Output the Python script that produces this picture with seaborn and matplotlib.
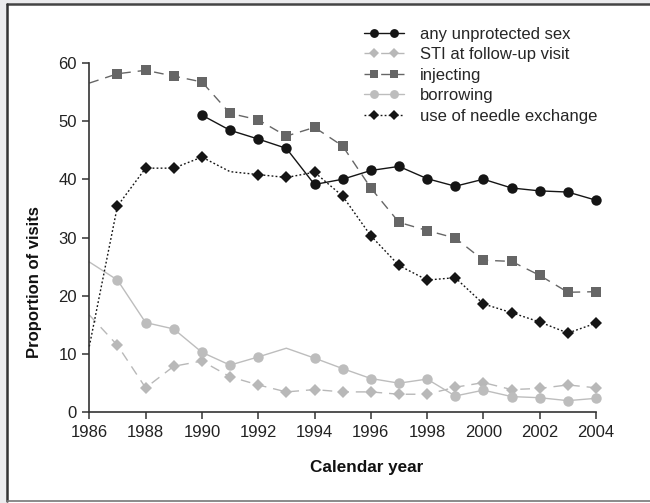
import numpy as np
import pandas as pd
import seaborn as sns
import matplotlib.pyplot as plt
from matplotlib.patches import Rectangle
from matplotlib.lines import Line2D
from matplotlib.legend_handler import HandlerLine2D, HandlerTuple

# data
years = list(range(1986, 2005))
unprotected_sex = [np.nan, np.nan, np.nan, np.nan, 51.0, 48.4, 46.9, 45.3, 39.1, 40.0,
                   41.5, 42.2, 40.1, 38.8, 40.0, 38.5, 38.0, 37.8, 36.4]
sti_followup = [16.7, 11.5, 4.2, 7.9, 8.8, 6.1, 4.7, 3.5, 3.9, 3.5,
                3.5, 3.1, 3.1, 4.3, 5.1, 3.9, 4.1, 4.7, 4.2]
injecting = [56.5, 58.1, 58.7, 57.7, 56.7, 51.3, 50.2, 47.4, 48.9, 45.7,
             38.5, 32.6, 31.2, 29.9, 26.1, 25.9, 23.5, 20.6, 20.7]
borrowing = [25.8, 22.7, 15.4, 14.3, 10.3, 8.1, 9.5, 11.0, 9.3, 7.5,
             5.8, 5.0, 5.7, 2.8, 3.8, 2.7, 2.5, 2.0, 2.4]
needle_exchange = [11.3, 35.4, 41.9, 41.9, 43.8, 41.3, 40.8, 40.3, 41.2, 37.1,
                   30.3, 25.2, 22.7, 23.1, 18.6, 17.1, 15.5, 13.6, 15.3]

# years drawn without a marker on each line
unmarked = {
    'any unprotected sex': [],
    'STI at follow-up visit': [1986],
    'injecting': [1986],
    'borrowing': [1986, 1993],
    'use of needle exchange': [1986, 1991],
}

sns.set_theme(style='white')
plt.rcParams['font.family'] = ['Liberation Sans', 'DejaVu Sans']

fig = plt.figure(figsize=(6.5, 5.03), dpi=100, facecolor='#ebebed')

# white panel with frame lines
fig.patches.append(Rectangle((7 / 650, 0), 1, 1 - 4 / 503, transform=fig.transFigure,
                             facecolor='white', edgecolor='none', zorder=-5))
fig.lines.append(Line2D([7 / 650, 1], [1 - 4 / 503] * 2, transform=fig.transFigure,
                        color='#444444', lw=1.8, zorder=-4))
fig.lines.append(Line2D([7 / 650] * 2, [0.003, 1 - 4 / 503], transform=fig.transFigure,
                        color='#333333', lw=1.8, zorder=-4))
fig.lines.append(Line2D([7 / 650, 1], [0.003] * 2, transform=fig.transFigure,
                        color='#777777', lw=1.2, zorder=-4))

ax = fig.add_axes([89.3 / 650, 1 - 412.3 / 503, (596 - 89.3) / 650, (412.3 - 62.7) / 503])
ax.set_facecolor('none')

series = [
    ('any unprotected sex', unprotected_sex, '#151515', '-', 'o', 7.5),
    ('STI at follow-up visit', sti_followup, '#b8b8b8', (0, (7, 5)), 'D', 6.5),
    ('injecting', injecting, '#666666', (0, (7, 5)), 's', 6.5),
    ('borrowing', borrowing, '#bdbdbd', '-', 'o', 7.5),
    ('use of needle exchange', needle_exchange, '#151515', (0, (1.3, 1.6)), 'D', 6.5),
]

handles, labels, hmap = [], [], {}
for name, vals, color, ls, mk, ms in series:
    df = pd.DataFrame({'year': years, 'value': vals}).dropna()
    marks = [y not in unmarked[name] for y in df['year']]
    sns.lineplot(data=df, x='year', y='value', ax=ax, color=color, linestyle=ls,
                 linewidth=1.0, marker=mk, markersize=ms, markeredgewidth=0,
                 markerfacecolor=color, markevery=marks, clip_on=False, legend=False)
    # legend handle: full-width line plus two inset markers
    ln = Line2D([], [], color=color, linestyle=ls, linewidth=1.0)
    mkh = Line2D([], [], linestyle='none', marker=mk, markersize=ms * 0.85,
                 markeredgewidth=0, color=color)
    hmap[ln] = HandlerLine2D(numpoints=2, marker_pad=0)
    hmap[mkh] = HandlerLine2D(numpoints=2, marker_pad=0.6)
    handles.append((ln, mkh))
    labels.append(name)

ax.set_xlim(1986, 2004)
ax.set_ylim(0, 60)
ax.set_xticks(range(1986, 2005, 2))
ax.set_yticks(range(0, 61, 10))
for s in ['top', 'right']:
    ax.spines[s].set_visible(False)
for s in ['left', 'bottom']:
    ax.spines[s].set_color('#333333')
    ax.spines[s].set_linewidth(1.2)
ax.tick_params(axis='both', direction='out', length=5, width=1.1, color='#333333',
               labelsize=12, labelcolor='#222222', pad=4, left=True, bottom=True)

ax.set_xlabel('Calendar year', fontsize=12.3, fontweight='bold', color='#111111',
              ha='center', va='top')
ax.xaxis.set_label_coords(0.548, -0.136)
ax.set_ylabel('Proportion of visits', fontsize=12, fontweight='bold', color='#111111',
              va='bottom')
ax.yaxis.set_label_coords(-0.094, 0.373)

hmap[tuple] = HandlerTuple(ndivide=1, pad=0)
fig.legend(handles, labels, handler_map=hmap, loc='upper left',
           bbox_to_anchor=(357 / 650, 1 - 20 / 503), frameon=False,
           handlelength=2.4, handletextpad=0.95, labelspacing=0.33, fontsize=12,
           borderaxespad=0)

fig.savefig('out.png', dpi=100, facecolor=fig.get_facecolor())
